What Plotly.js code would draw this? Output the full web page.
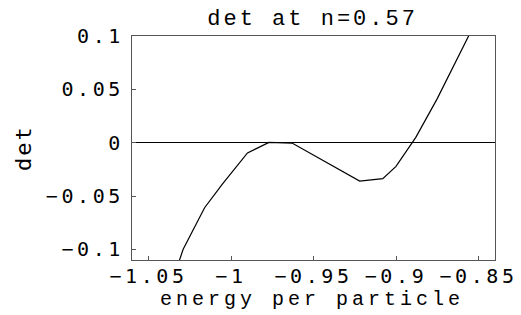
<!DOCTYPE html>
<html>
<head>
<meta charset="utf-8">
<script src="https://cdn.plot.ly/plotly-3.0.1.min.js"></script>
<style>
html,body{margin:0;padding:0;background:#fff;}
#chart{width:521px;height:315px;}
.xtick text, .ytick text {letter-spacing:3.6px;}
.gtitle {letter-spacing:3px;}
.annotation-text {letter-spacing:4px;}
.g-ytitle text {letter-spacing:2px;}
</style>
</head>
<body>
<div id="chart"></div>
<script>
const energy = [-1.040, -1.029, -1.016, -1.005, -0.990, -0.977, -0.963, -0.933, -0.922, -0.908, -0.900, -0.888, -0.875, -0.856, -0.846];
const det = [-0.150, -0.100, -0.061, -0.0385, -0.0096, 0.0003, -0.0004, -0.0266, -0.036, -0.0338, -0.0222, 0.005, 0.0413, 0.100, 0.131];
const xTickVals = [-1.05, -1, -0.95, -0.9, -0.85];
const xTickText = ["\u22121.05", "\u22121", "\u22120.95", "\u22120.9", "\u22120.85"];
const yTickVals = [-0.1, -0.05, 0, 0.05, 0.1];
const yTickText = ["\u22120.1", "\u22120.05", "0", "0.05", "0.1"];

const tickFont = {family: "DejaVu Sans Mono", size: 20, color: "#000"};
const titleFont = {family: "Liberation Mono", size: 22, color: "#000"};

Plotly.newPlot("chart", [{
  x: energy, y: det, type: "scatter", mode: "lines",
  line: {color: "#000", width: 1.2}, hoverinfo: "skip"
}], {
  width: 521, height: 315,
  margin: {l: 132, r: 26, t: 36, b: 55},
  paper_bgcolor: "#fff", plot_bgcolor: "#fff",
  showlegend: false,
  title: {text: "det at n=0.57", font: titleFont, x: 0.6, xanchor: "center", y: 0.945, yanchor: "middle"},
  annotations: [{
    text: "energy per particle", font: {family: "Liberation Mono", size: 20, color: "#000"}, showarrow: false,
    xref: "paper", yref: "paper", x: 0.495, y: -0.178, xanchor: "center", yanchor: "middle"
  }],
  xaxis: {
    range: [-1.06, -0.84], tickmode: "array", tickvals: xTickVals, ticktext: xTickText,
    showgrid: false, zeroline: false, showline: true, mirror: true, linecolor: "#555", linewidth: 1,
    ticks: "inside", ticklen: 4, tickcolor: "#555", tickfont: tickFont, ticklabelstandoff: -2
  },
  yaxis: {
    range: [-0.11, 0.1], tickmode: "array", tickvals: yTickVals, ticktext: yTickText,
    showgrid: false, zeroline: true, zerolinecolor: "#000", zerolinewidth: 1,
    showline: true, mirror: true, linecolor: "#555", linewidth: 1,
    ticks: "inside", ticklen: 4, tickcolor: "#555", tickfont: tickFont, ticklabelstandoff: 3,
    title: {text: "det", font: {family: "DejaVu Sans Mono", size: 22, color: "#000"}, standoff: 8}
  }
}, {staticPlot: true, displayModeBar: false});
</script>
</body>
</html>
